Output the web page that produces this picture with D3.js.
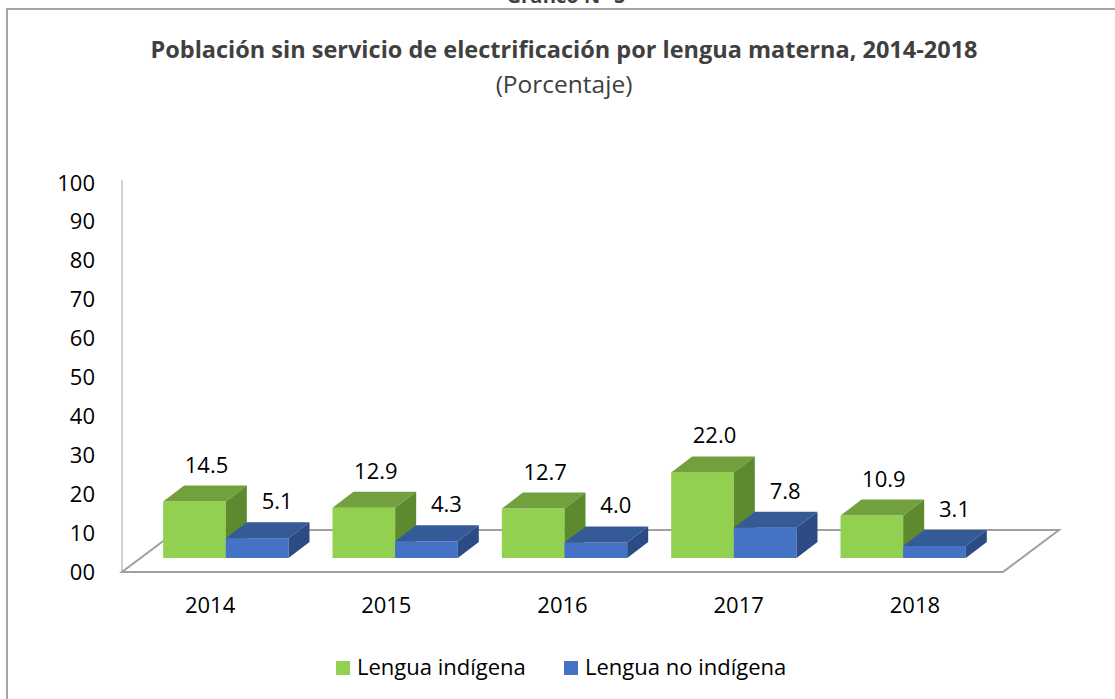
<!DOCTYPE html>
<html>
<head>
<meta charset="utf-8">
<script src="https://cdn.jsdelivr.net/npm/d3@7"></script>
<style>
  body { margin: 0; background: #fff; }
  text { font-family: "Open Sans", "Noto Sans", sans-serif; fill: #000; }
</style>
</head>
<body>
<script>
var years = ["2014", "2015", "2016", "2017", "2018"];
var indigena = [14.5, 12.9, 12.7, 22.0, 10.9];
var noIndigena = [5.1, 4.3, 4.0, 7.8, 3.1];
var seriesNames = ["Lengua indígena", "Lengua no indígena"];
var tickValues = [0, 10, 20, 30, 40, 50, 60, 70, 80, 90, 100];
var tickLabels = ["00", "10", "20", "30", "40", "50", "60", "70", "80", "90", "100"];

var colors = [
  {front: "#92d050", top: "#72a03c", side: "#5e8a2f"},
  {front: "#4472c4", top: "#345a98", side: "#2c4b84"}
];

var width = 1115, height = 699;
var svg = d3.select("body").append("svg").attr("width", width).attr("height", height);

// outer frame (runs off the right and bottom)
svg.append("rect").attr("x", 7).attr("y", 9).attr("width", 1200).attr("height", 800)
  .attr("fill", "none").attr("stroke", "#a6a6a6").attr("stroke-width", 2);

svg.append("text").attr("x", 566).attr("y", 3).attr("text-anchor", "middle")
  .attr("font-size", 20).attr("font-weight", "bold").style("fill", "#404040").text("Gráfico N° 5");

svg.append("text").attr("x", 564).attr("y", 58).attr("text-anchor", "middle")
  .attr("font-size", 23.5).attr("font-weight", "bold").style("fill", "#404040")
  .text("Población sin servicio de electrificación por lengua materna, 2014-2018");
svg.append("text").attr("x", 564).attr("y", 93).attr("text-anchor", "middle")
  .attr("font-size", 24.5).style("fill", "#404040").text("(Porcentaje)");

var y = d3.scaleLinear().domain([0, 100]).range([572, 183]);
var xFloor = d3.scaleBand().domain(years).range([122, 1003]);
var xGroup = d3.scaleBand().domain(years).range([153, 976]).paddingInner(0.26).paddingOuter(0.06);
var xSeries = d3.scaleBand().domain([0, 1]).range([0, xGroup.bandwidth()]);

var depthX = 56, depthY = -42;     // floor depth
var barDx = 21, barDy = -16;       // bar depth
var lift = 14;                     // bars stand inside the floor

// wall edge
svg.append("line").attr("x1", 122).attr("x2", 122).attr("y1", y(100) - 3).attr("y2", y(0))
  .attr("stroke", "#d0d0d0").attr("stroke-width", 2);

// floor
var x0 = xFloor.range()[0], x1 = xFloor.range()[1], yF = y(0);
svg.append("path")
  .attr("d", "M" + x0 + "," + yF + "L" + x1 + "," + yF + "L" + (x1 + depthX) + "," + (yF + depthY) +
    "L" + (x0 + depthX) + "," + (yF + depthY) + "Z")
  .attr("fill", "#fff").attr("stroke", "#a0a0a0").attr("stroke-width", 2);

// y axis
var yAxis = d3.axisLeft(y).tickValues(tickValues).tickSize(0).tickPadding(27)
  .tickFormat(function(d, i) { return tickLabels[i]; });
var gy = svg.append("g").attr("transform", "translate(122,0)").call(yAxis);
gy.select(".domain").remove();
gy.selectAll("text").attr("font-size", 22).attr("font-family", "Open Sans").style("fill", "#000");

// x labels
svg.append("g").selectAll("text").data(years).enter().append("text")
  .attr("x", function(d) { return xFloor(d) + xFloor.bandwidth() / 2; })
  .attr("y", 613).attr("text-anchor", "middle").attr("font-size", 22)
  .text(function(d) { return d; });

// bars
var series = [indigena, noIndigena];
var labelShift = [12, 20];
years.forEach(function(yr, i) {
  series.forEach(function(vals, s) {
    var v = vals[i];
    var bx = xGroup(yr) + xSeries(s), bw = xSeries.bandwidth();
    var yb = y(0) - lift, yt = y(v) - lift;
    var c = colors[s];
    var g = svg.append("g");
    g.append("rect").attr("x", bx).attr("y", yt).attr("width", bw).attr("height", yb - yt).attr("fill", c.front);
    g.append("path").attr("fill", c.top)
      .attr("d", "M" + bx + "," + yt + "L" + (bx + barDx) + "," + (yt + barDy) + "L" + (bx + bw + barDx) + "," + (yt + barDy) + "L" + (bx + bw) + "," + yt + "Z");
    g.append("path").attr("fill", c.side)
      .attr("d", "M" + (bx + bw) + "," + yt + "L" + (bx + bw + barDx) + "," + (yt + barDy) + "L" + (bx + bw + barDx) + "," + (yb + barDy) + "L" + (bx + bw) + "," + yb + "Z");
  });
});

// value labels
years.forEach(function(yr, i) {
  series.forEach(function(vals, s) {
    var v = vals[i];
    var cx = xGroup(yr) + xSeries(s) + xSeries.bandwidth() / 2 + labelShift[s];
    svg.append("text").attr("x", cx).attr("y", y(v) - lift - 37 + 8)
      .attr("text-anchor", "middle").attr("font-size", 22).text(d3.format(".1f")(v));
  });
});

// legend
var legend = svg.append("g");
var legX = [336, 564];
seriesNames.forEach(function(n, s) {
  legend.append("rect").attr("x", legX[s]).attr("y", 661).attr("width", 14).attr("height", 14).attr("fill", colors[s].front);
  legend.append("text").attr("x", legX[s] + 21).attr("y", 675).attr("font-size", 22).text(n);
});
</script>
</body>
</html>
